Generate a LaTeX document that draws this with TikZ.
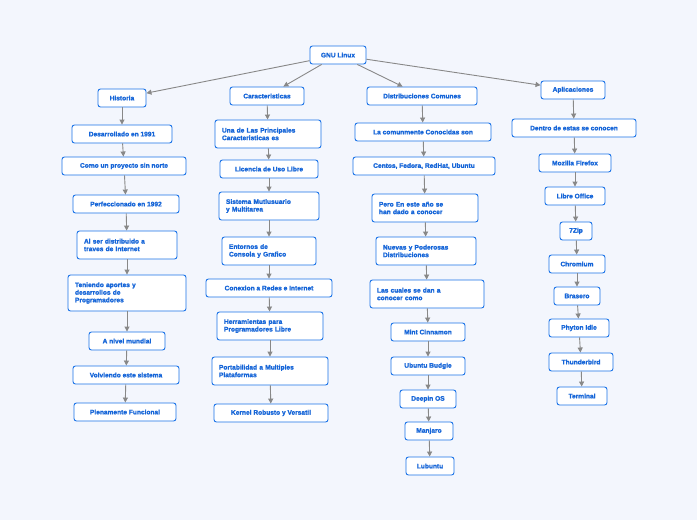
\documentclass[tikz,border=0pt]{standalone}
\usepackage{fontspec}
\setmainfont{Liberation Sans}
\newfontfamily\boxfont{Liberation Sans Bold}[FakeBold=1.5]
\usetikzlibrary{arrows.meta, positioning}
\definecolor{bgblue}{HTML}{F3F6FD}
\definecolor{boxblue}{HTML}{1A73E8}
\definecolor{txtblue}{HTML}{1565D8}
\definecolor{linegray}{HTML}{888888}
\tikzset{
  topic/.style={rectangle, draw=boxblue, fill=white, line width=0.9pt,
                rounded corners=2.5pt, minimum height=18pt, inner ysep=2pt, inner xsep=3pt,
                text=txtblue, font=\boxfont\fontsize{6.6}{7.6}\selectfont},
  topicL/.style={topic, align=left, minimum height=28pt, inner xsep=7pt},
  arrow/.style={-{Triangle[length=5pt,width=5pt]}, line width=0.9pt, draw=linegray},
}
\begin{document}
\begin{tikzpicture}[x=1pt, y=-1pt]
  \fill[bgblue] (0,0) rectangle (697,520);
  \useasboundingbox (0,0) rectangle (697,520);

  \node[topic, minimum width=56pt] (root) at (338,55) {GNU Linux};

  % Historia
  \node[topic, minimum width=48pt]  (h0) at (122,98)  {Historia};
  \node[topic, minimum width=100pt] (h1) at (122,134) {Desarrollado en 1991};
  \node[topic, minimum width=124pt] (h2) at (124,166) {Como un proyecto sin norte};
  \node[topic, minimum width=106pt] (h3) at (126,204) {Perfeccionado en 1992};
  \node[topicL, text width=86pt]    (h4) at (127,245) {Al ser distribuido a\\traves de Internet};
  \node[topicL, text width=104pt, minimum height=36pt] (h5) at (127,293) {Teniendo aportes y\\desarrollos de\\Programadores};
  \node[topic, minimum width=76pt]  (h6) at (127,341) {A nivel mundial};
  \node[topic, minimum width=106pt] (h7) at (126,375) {Volviendo este sistema};
  \node[topic, minimum width=102pt] (h8) at (125,412) {Plenamente Funcional};

  % Caracteristicas
  \node[topic, minimum width=74pt]  (c0) at (267,96)  {Caracteristicas};
  \node[topicL, text width=92pt]    (c1) at (268,134) {Una de Las Principales\\Caracteristicas es};
  \node[topic, minimum width=98pt]  (c2) at (269,169) {Licencia de Uso Libre};
  \node[topicL, text width=86pt]    (c3) at (269,206) {Sistema Mutlusuario\\y Multitarea};
  \node[topicL, text width=80pt]    (c4) at (269,251) {Entornos de\\Consola y Grafico};
  \node[topic, minimum width=126pt] (c5) at (269,288) {Conexion a Redes e Internet};
  \node[topicL, text width=92pt]    (c6) at (270,326) {Herramientas para\\Programadores Libre};
  \node[topicL, text width=102pt]   (c7) at (270,371) {Portabilidad a Multiples\\Plataformas};
  \node[topic, minimum width=114pt] (c8) at (271,413) {Kernel Robusto y Versatil};

  % Distribuciones
  \node[topic, minimum width=110pt] (d0)  at (422,96)  {Distribuciones Comunes};
  \node[topic, minimum width=136pt] (d1)  at (423,132) {La comunmente Conocidas son};
  \node[topic, minimum width=142pt] (d2)  at (424,166) {Centos, Fedora, RedHat, Ubuntu};
  \node[topicL, text width=92pt]    (d3)  at (425,208) {Pero En este año se\\han dado a conocer};
  \node[topicL, text width=86pt]    (d4)  at (426,251) {Nuevas y Poderosas\\Distribuciones};
  \node[topicL, text width=100pt]   (d5)  at (427,294) {Las cuales se dan a\\conocer como};
  \node[topic, minimum width=74pt]  (d6)  at (428,332) {Mint Cinnamon};
  \node[topic, minimum width=74pt]  (d7)  at (428,366) {Ubuntu Budgie};
  \node[topic, minimum width=56pt]  (d8)  at (428,399) {Deepin OS};
  \node[topic, minimum width=48pt]  (d9)  at (429,431) {Manjaro};
  \node[topic, minimum width=48pt]  (d10) at (430,466) {Lubuntu};

  % Aplicaciones
  \node[topic, minimum width=64pt]  (a0) at (573,90)  {Aplicaciones};
  \node[topic, minimum width=124pt] (a1) at (574,128) {Dentro de estas se conocen};
  \node[topic, minimum width=72pt]  (a2) at (575,163) {Mozilla Firefox};
  \node[topic, minimum width=60pt]  (a3) at (575,196) {Libre Office};
  \node[topic, minimum width=32pt]  (a4) at (576,231) {7Zip};
  \node[topic, minimum width=56pt]  (a5) at (577,264) {Chromium};
  \node[topic, minimum width=46pt]  (a6) at (577,296) {Brasero};
  \node[topic, minimum width=60pt]  (a7) at (579,328) {Phyton Idle};
  \node[topic, minimum width=64pt]  (a8) at (581,362) {Thunderbird};
  \node[topic, minimum width=50pt]  (a9) at (582,396) {Terminal};

  \draw[arrow] (root) -- (h0);
  \draw[arrow] (root) -- (c0);
  \draw[arrow] (root) -- (d0);
  \draw[arrow] (root) -- (a0);

  \foreach \a/\b in {h0/h1,h1/h2,h2/h3,h3/h4,h4/h5,h5/h6,h6/h7,h7/h8,
                     c0/c1,c1/c2,c2/c3,c3/c4,c4/c5,c5/c6,c6/c7,c7/c8,
                     d0/d1,d1/d2,d2/d3,d3/d4,d4/d5,d5/d6,d6/d7,d7/d8,d8/d9,d9/d10,
                     a0/a1,a1/a2,a2/a3,a3/a4,a4/a5,a5/a6,a6/a7,a7/a8,a8/a9}
    \draw[arrow] (\a) -- (\b);
\end{tikzpicture}
\end{document}
